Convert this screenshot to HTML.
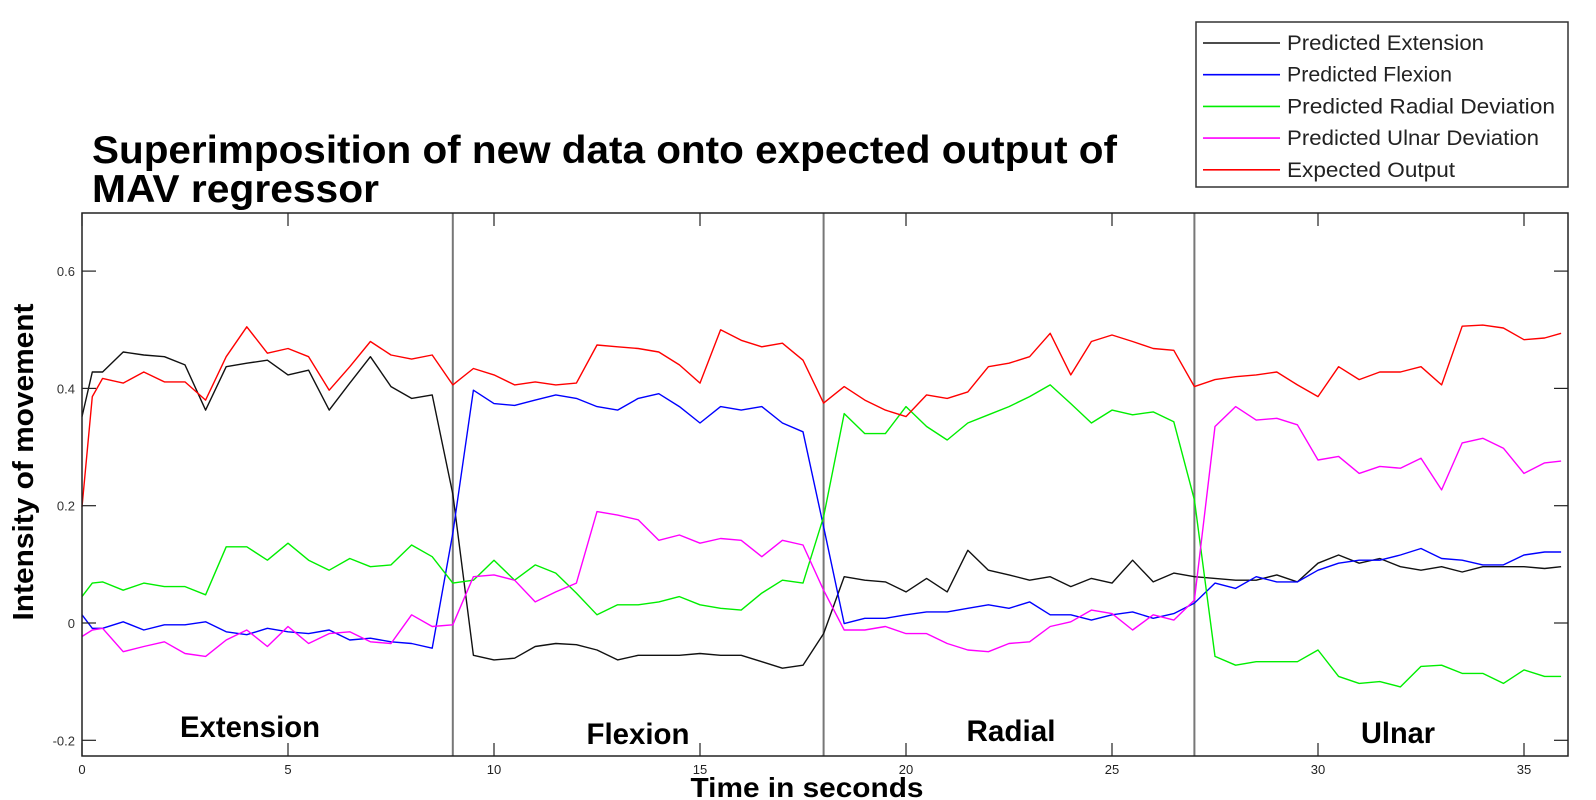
<!DOCTYPE html>
<html><head><meta charset="utf-8"><title>MAV regressor</title>
<style>html,body{margin:0;padding:0;background:#fff;}svg{display:block;font-family:"Liberation Sans",Arial,sans-serif;}</style>
</head><body>
<svg id="chart" width="1596" height="800" viewBox="0 0 1596 800">
<text x="92" y="163" font-size="39" font-weight="bold" textLength="1025" lengthAdjust="spacingAndGlyphs">Superimposition of new data onto expected output of</text>
<text x="92" y="202" font-size="39" font-weight="bold" textLength="287" lengthAdjust="spacingAndGlyphs">MAV regressor</text>
<text transform="translate(33,462) rotate(-90)" text-anchor="middle" font-size="29" font-weight="bold" textLength="317" lengthAdjust="spacingAndGlyphs">Intensity of movement</text>
<text x="807" y="797" text-anchor="middle" font-size="28" font-weight="bold" textLength="233" lengthAdjust="spacingAndGlyphs">Time in seconds</text>
<g id="plot"></g>
<g id="legend"></g>
</svg>
<script>
const times = [0,0.25,0.5,1,1.5,2,2.5,3,3.5,4,4.5,5,5.5,6,6.5,7,7.5,8,8.5,9,9.5,10,10.5,11,11.5,12,12.5,13,13.5,14,14.5,15,15.5,16,16.5,17,17.5,18,18.5,19,19.5,20,20.5,21,21.5,22,22.5,23,23.5,24,24.5,25,25.5,26,26.5,27,27.5,28,28.5,29,29.5,30,30.5,31,31.5,32,32.5,33,33.5,34,34.5,35,35.5,35.9];
const extension = [.352,.428,.428,.462,.457,.454,.44,.363,.437,.443,.448,.423,.431,.363,.409,.454,.403,.383,.389,.22,-.055,-.063,-.06,-.04,-.035,-.037,-.046,-.063,-.055,-.055,-.055,-.052,-.055,-.055,-.066,-.077,-.072,-.018,.079,.073,.07,.053,.076,.053,.124,.09,.082,.073,.079,.062,.076,.068,.107,.07,.085,.079,.076,.073,.073,.082,.07,.102,.116,.102,.11,.096,.09,.096,.087,.096,.096,.096,.093,.096];
const flexion = [.014,-.009,-.009,.002,-.012,-.003,-.003,.002,-.015,-.02,-.009,-.015,-.018,-.012,-.029,-.026,-.032,-.035,-.043,.153,.397,.374,.371,.38,.389,.383,.369,.363,.383,.391,.369,.341,.369,.363,.369,.341,.326,.164,-.001,.008,.008,.014,.019,.019,.025,.031,.025,.036,.014,.014,.005,.014,.019,.008,.016,.034,.068,.059,.079,.07,.07,.09,.102,.107,.107,.116,.127,.11,.107,.099,.099,.116,.121,.121];
const radial = [.045,.068,.07,.056,.068,.062,.062,.048,.13,.13,.107,.136,.107,.09,.11,.096,.099,.133,.113,.068,.073,.107,.073,.099,.085,.051,.014,.031,.031,.036,.045,.031,.025,.022,.051,.073,.068,.181,.357,.323,.323,.369,.335,.312,.341,.355,.369,.386,.406,.374,.341,.363,.355,.36,.343,.21,-.057,-.072,-.066,-.066,-.066,-.046,-.091,-.103,-.1,-.109,-.074,-.072,-.086,-.086,-.103,-.08,-.091,-.091];
const ulnar = [-.023,-.012,-.009,-.049,-.04,-.032,-.052,-.057,-.029,-.012,-.04,-.006,-.035,-.018,-.015,-.032,-.035,.014,-.006,-.003,.079,.082,.073,.036,.053,.068,.19,.184,.176,.141,.15,.136,.144,.141,.113,.141,.133,.056,-.012,-.012,-.006,-.018,-.018,-.035,-.046,-.049,-.035,-.032,-.006,.002,.022,.016,-.012,.014,.005,.039,.335,.369,.346,.349,.338,.278,.284,.255,.267,.264,.281,.227,.307,.315,.298,.255,.273,.276];
const expected = [.198,.386,.417,.409,.428,.411,.411,.38,.454,.505,.46,.468,.454,.397,.437,.48,.457,.45,.457,.406,.434,.423,.406,.411,.406,.409,.474,.471,.468,.462,.44,.409,.5,.482,.471,.477,.448,.375,.403,.38,.363,.352,.389,.383,.394,.437,.443,.454,.494,.423,.48,.491,.48,.468,.465,.403,.415,.42,.423,.428,.406,.386,.437,.415,.428,.428,.437,.406,.506,.508,.503,.483,.486,.494];
const xTicks = [0,5,10,15,20,25,30,35];
const yTicks = [-0.2,0,0.2,0.4,0.6];
const yTickLabels = ["-0.2","0","0.2","0.4","0.6"];
const boundaries = [9,18,27];
const segmentNames = ["Extension","Flexion","Radial","Ulnar"];
const legendNames = ["Predicted Extension","Predicted Flexion","Predicted Radial Deviation","Predicted Ulnar Deviation","Expected Output"];

const NS="http://www.w3.org/2000/svg";
const L=82,R=1568,T=213,B=756;
const X=t=>82+41.2*t;
const Y=v=>623-586.5*v;
const plot=document.getElementById('plot');
function mk(tag,at,parent){const e=document.createElementNS(NS,tag);for(const k in at)e.setAttribute(k,at[k]);(parent||plot).appendChild(e);return e;}

boundaries.forEach((b,i)=>{
  const ln=mk('line',{x1:X(b),x2:X(b),y1:T,y2:B,stroke:'#777','stroke-width':2});
  
  
});
const series=[[extension,'#111'],[flexion,'#0000ff'],[radial,'#00ee00'],[ulnar,'#ff00ff'],[expected,'#ff0000']];
const sNames=['line-predicted-extension','line-predicted-flexion','line-predicted-radial','line-predicted-ulnar','line-expected-output'];
series.forEach(([vals,col],i)=>{
  const n=Math.min(vals.length,times.length);
  let d='';
  for(let k=0;k<n;k++)d+=(k?'L':'M')+X(times[k]).toFixed(1)+','+Y(vals[k]).toFixed(1);
  const p=mk('path',{d:d,fill:'none',stroke:col,'stroke-width':1.4,'stroke-linejoin':'round'});
  
  
});
const box=mk('rect',{x:L,y:T,width:R-L,height:B-T,fill:'none',stroke:'#222','stroke-width':1.5});


xTicks.forEach(t=>{
  mk('line',{x1:X(t),x2:X(t),y1:B,y2:B-13,stroke:'#222','stroke-width':1.2});
  mk('line',{x1:X(t),x2:X(t),y1:T,y2:T+13,stroke:'#222','stroke-width':1.2});
  const tx=mk('text',{x:X(t),y:B+18,'text-anchor':'middle','font-size':13,fill:'#222'});
  tx.textContent=String(t);
  
  
});
yTicks.forEach((v,i)=>{
  mk('line',{x1:L,x2:L+14,y1:Y(v),y2:Y(v),stroke:'#222','stroke-width':1.2});
  mk('line',{x1:R,x2:R-14,y1:Y(v),y2:Y(v),stroke:'#222','stroke-width':1.2});
  const tx=mk('text',{x:L-7,y:Y(v)+5,'text-anchor':'end','font-size':13,fill:'#333'});
  tx.textContent=yTickLabels[i];
  
  
});
const segX=[250,638,1011,1398],segY=[737,744,741,743],segW=[140,103,89,74];
segmentNames.forEach((s,i)=>{
  const tx=mk('text',{x:segX[i],y:segY[i],'text-anchor':'middle','font-size':30,'font-weight':'bold',textLength:segW[i],lengthAdjust:'spacingAndGlyphs'});
  tx.textContent=s;
  
  
});
const lg=document.getElementById('legend');
const lb=mk('rect',{x:1196,y:22,width:372,height:165,fill:'#fff',stroke:'#333','stroke-width':1.5},lg);


const lgW=[197,165,268,252,168];
legendNames.forEach((nm,i)=>{
  const y=43+31.7*i;
  mk('line',{x1:1203,x2:1280,y1:y,y2:y,stroke:series[i][1],'stroke-width':1.6},lg);
  const tx=mk('text',{x:1287,y:y+7,'font-size':21,fill:'#222',textLength:lgW[i],lengthAdjust:'spacingAndGlyphs'},lg);
  tx.textContent=nm;
  
  
});
</script>
</body></html>
